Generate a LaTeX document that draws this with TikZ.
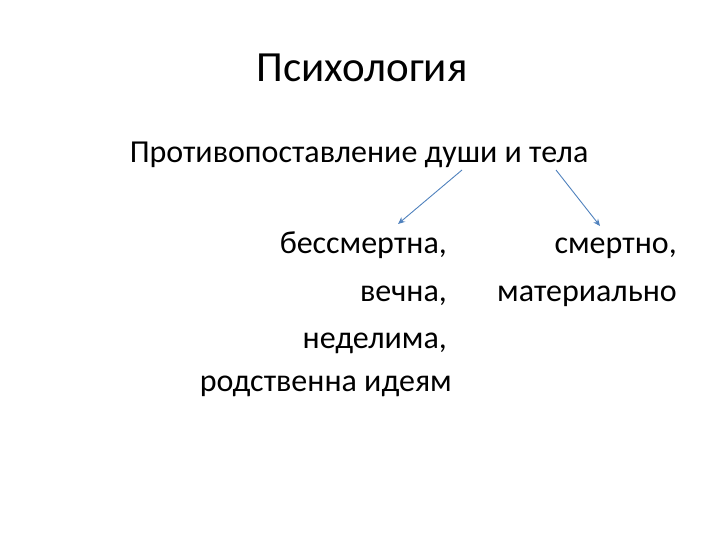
\documentclass[tikz,border=0pt]{standalone}
\usepackage{fontspec}
\usetikzlibrary{arrows.meta}
\setmainfont{Carlito}
\definecolor{arrblue}{RGB}{79,129,189}
\begin{document}
\begin{tikzpicture}[x=1pt,y=-1pt,
  txt/.style={inner sep=0pt,font=\fontsize{32}{34}\selectfont},
  lbl/.style={txt,anchor=base east},
  arr/.style={draw=arrblue,line width=0.9pt,-{Stealth[length=7pt,width=6pt]}}]
\useasboundingbox (0,0) rectangle (720,540);
\node[inner sep=0pt,font=\fontsize{43}{46}\selectfont,anchor=base] (title) at (362,82) {Психология};
\node[txt,anchor=base] (main) at (359,163) {Противопоставление души и тела};
\node[lbl] (a1) at (447,253) {бессмертна,};
\node[lbl] (a2) at (447,301) {вечна,};
\node[lbl] (a3) at (447,348) {неделима,};
\node[lbl] (a4) at (452,391) {родственна идеям};
\node[lbl] (b1) at (677,253) {смертно,};
\node[lbl] (b2) at (677,301) {материально};
\coordinate (s1) at (462,170);
\coordinate (e1) at (398,224);
\coordinate (s2) at (556,170);
\coordinate (e2) at (600,226);
\draw[arr] (s1) -- (e1);
\draw[arr] (s2) -- (e2);
\end{tikzpicture}
\end{document}
